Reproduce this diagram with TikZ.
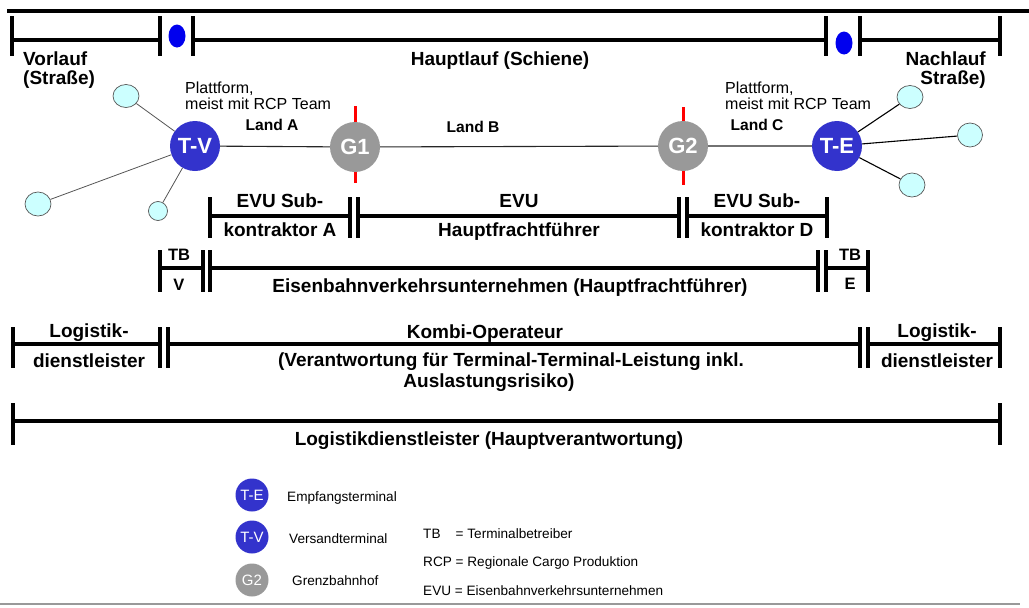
\documentclass[tikz,border=0pt]{standalone}
\usepackage{fontspec}
\setmainfont{Liberation Sans}
\usepackage{tikz}
\usetikzlibrary{shapes.geometric, positioning, backgrounds}
\definecolor{termblue}{HTML}{3333CC}
\definecolor{markblue}{HTML}{0000EE}
\definecolor{grenzgray}{HTML}{999999}
\definecolor{stopcyan}{HTML}{CCFFFF}
\definecolor{spokegray}{HTML}{555555}

\begin{document}
\begin{tikzpicture}[
    x=1pt, y=-1pt,
    every node/.style={inner sep=0pt},
    bar/.style={line width=3.6pt},
    toplabel/.style={font=\fontsize{19}{19}\selectfont\bfseries, anchor=base},
    rowlabel/.style={font=\fontsize{19}{19}\selectfont\bfseries, anchor=base},
    tblabel/.style={font=\fontsize{16.5}{16.5}\selectfont\bfseries, anchor=base},
    note/.style={font=\fontsize{16}{16}\selectfont, anchor=base west},
    land/.style={font=\fontsize{15.6}{15.6}\selectfont\bfseries, anchor=base},
    legend/.style={font=\fontsize{13.6}{13.6}\selectfont, anchor=base west},
    terminal/.style={circle, fill=termblue, minimum size=50pt, text=white,
                     font=\fontsize{22}{22}\selectfont\bfseries},
    grenz/.style={terminal, fill=grenzgray},
    minisign/.style={circle, fill=termblue, minimum size=33pt, text=white,
                     font=\fontsize{15}{15}\selectfont},
    stop/.style={ellipse, draw=spokegray, fill=stopcyan, line width=0.7pt},
    wechsel/.style={ellipse, fill=markblue, minimum width=17pt,
                    minimum height=23pt},
    spoke/.style={line width=0.8pt, color=spokegray},
    rail/.style={line width=1.1pt, color=black!85},
    border/.style={line width=3pt, color=red}
]
\useasboundingbox (0,0) rectangle (1029,608);

% top rule and phases
\draw[line width=4pt] (7,11) -- (1029,11);
\draw[bar] (12,16) -- (12,56);
\draw[bar] (12,40) -- (160,40);
\draw[bar] (160,16) -- (160,56);
\draw[bar] (193,16) -- (193,56);
\draw[bar] (193,40) -- (826,40);
\draw[bar] (826,16) -- (826,56);
\draw[bar] (860,16) -- (860,56);
\draw[bar] (860,40) -- (1000,40);
\draw[bar] (1000,16) -- (1000,56);
\node[wechsel] (wv) at (177,36) {};
\node[wechsel] (we) at (844,43) {};

\node[toplabel, anchor=base west] (vorlauf) at (23,65) {Vorlauf};
\node[toplabel, anchor=base west] (vorlauf2) at (23,84) {(Straße)};
\node[toplabel] (hauptlauf) at (500,65) {Hauptlauf (Schiene)};
\node[toplabel, anchor=base east] (nachlauf) at (986,65) {Nachlauf};
\node[toplabel, anchor=base east] (nachlauf2) at (986,84) {Straße)};

% network
\node[terminal] (tv) at (195,146) {T-V};
\node[grenz] (g1) at (355,147) {G1};
\node[grenz] (g2) at (683,146) {G2};
\node[terminal] (te) at (837,146) {T-E};

\node[stop, minimum width=26pt, minimum height=23pt] (sv1) at (126,96) {};
\node[stop, minimum width=26pt, minimum height=24pt] (sv2) at (38,204) {};
\node[stop, minimum width=19pt, minimum height=19pt] (sv3) at (158,211) {};
\node[stop, minimum width=26pt, minimum height=23pt] (se1) at (910,97) {};
\node[stop, minimum width=25pt, minimum height=24pt] (se2) at (970,135) {};
\node[stop, minimum width=26pt, minimum height=24pt] (se3) at (912,185) {};

\begin{scope}[on background layer]
\draw[border] (355,106) -- (355,183);
\draw[border] (683,107) -- (683,185);
\end{scope}

\draw[rail] (tv) -- (g1) -- (g2) -- (te);
\draw[spoke] (tv) -- (sv1);
\draw[spoke] (tv) -- (sv2);
\draw[spoke] (tv) -- (sv3);
\draw[line width=1.1pt] (te) -- (se1);
\draw[line width=1.1pt] (te) -- (se2);
\draw[line width=1.1pt] (te) -- (se3);

\node[note] (plattv) at (185,93) {Plattform,};
\node[note] (plattv2) at (185,109) {meist mit RCP Team};
\node[note] (platte) at (725,93) {Plattform,};
\node[note] (platte2) at (725,109) {meist mit RCP Team};
\node[land] (landa) at (272,130) {Land A};
\node[land] (landb) at (473,132) {Land B};
\node[land] (landc) at (757,130) {Land C};

% EVU row
\draw[bar] (210,197) -- (210,238);
\draw[bar] (210,216) -- (350,216);
\draw[bar] (350,197) -- (350,238);
\draw[bar] (358,197) -- (358,238);
\draw[bar] (358,216) -- (679,216);
\draw[bar] (679,197) -- (679,238);
\draw[bar] (687,197) -- (687,238);
\draw[bar] (687,216) -- (827,216);
\draw[bar] (827,197) -- (827,238);
\node[rowlabel] (suba) at (280,207) {EVU Sub-};
\node[rowlabel] (suba2) at (280,236) {kontraktor A};
\node[rowlabel] (evu) at (519,207) {EVU};
\node[rowlabel] (evu2) at (519,236) {Hauptfrachtführer};
\node[rowlabel] (subd) at (757,207) {EVU Sub-};
\node[rowlabel] (subd2) at (757,236) {kontraktor D};

% railway undertaking row
\draw[bar] (160,250) -- (160,292);
\draw[bar] (160,268) -- (203,268);
\draw[bar] (203,250) -- (203,292);
\draw[bar] (210,250) -- (210,292);
\draw[bar] (210,268) -- (818,268);
\draw[bar] (818,250) -- (818,292);
\draw[bar] (826,250) -- (826,292);
\draw[bar] (826,268) -- (868,268);
\draw[bar] (868,250) -- (868,292);
\node[tblabel] (tbv) at (179,260) {TB};
\node[tblabel] (tbv2) at (179,290) {V};
\node[rowlabel] (eisenbahn) at (510,292)
     {Eisenbahnverkehrsunternehmen (Hauptfrachtführer)};
\node[tblabel] (tbe) at (850,260) {TB};
\node[tblabel] (tbe2) at (850,289) {E};

% operator row
\draw[bar] (13,327) -- (13,368);
\draw[bar] (13,344) -- (160,344);
\draw[bar] (160,327) -- (160,368);
\draw[bar] (168,327) -- (168,368);
\draw[bar] (168,344) -- (860,344);
\draw[bar] (860,327) -- (860,368);
\draw[bar] (868,327) -- (868,368);
\draw[bar] (868,344) -- (1000,344);
\draw[bar] (1000,327) -- (1000,368);
\node[rowlabel] (logl) at (89,337) {Logistik-};
\node[rowlabel] (logl2) at (89,367) {dienstleister};
\node[rowlabel] (kombi) at (485,338) {Kombi-Operateur};
\node[rowlabel] (kombi2) at (511,366)
     {(Verantwortung für Terminal-Terminal-Leistung inkl.};
\node[rowlabel] (kombi3) at (489,387) {Auslastungsrisiko)};
\node[rowlabel] (logr) at (937,337) {Logistik-};
\node[rowlabel] (logr2) at (937,367) {dienstleister};

% logistics row
\draw[bar] (13,403) -- (13,445);
\draw[bar] (13,421) -- (1000,421);
\draw[bar] (1000,403) -- (1000,445);
\node[rowlabel] (logistik) at (489,445)
     {Logistikdienstleister (Hauptverantwortung)};

% legend
\node[minisign] (lte) at (252,495) {T-E};
\node[minisign] (ltv) at (252,537) {T-V};
\node[minisign, fill=grenzgray] (lg2) at (252,580) {G2};
\node[legend] (lteText) at (287,501) {Empfangsterminal};
\node[legend] (ltvText) at (289,543) {Versandterminal};
\node[legend] (lg2Text) at (292,585) {Grenzbahnhof};
\node[legend] (abbrtb) at (423,538) {\rlap{TB}\hphantom{RCP} = Terminalbetreiber};
\node[legend] (abbrrcp) at (423,566) {RCP = Regionale Cargo Produktion};
\node[legend] (abbrevu) at (423,595) {EVU = Eisenbahnverkehrsunternehmen};

\draw[line width=2pt, color=black!40] (0,604) -- (1020,604);

\end{tikzpicture}
\end{document}
